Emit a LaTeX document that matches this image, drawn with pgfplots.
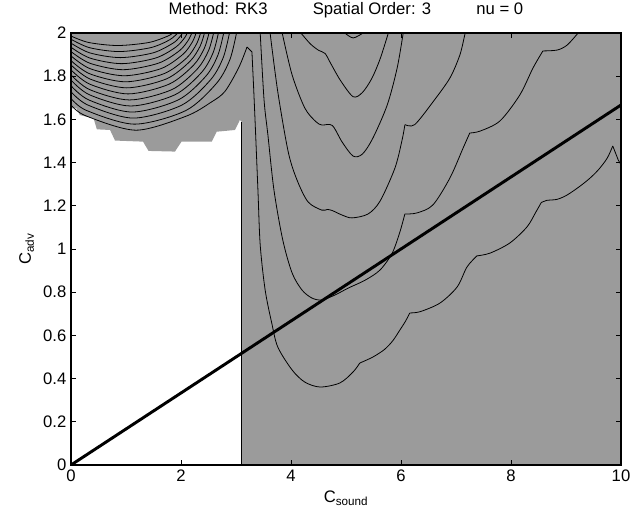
\documentclass[border=0pt]{standalone}
\usepackage{fontspec}
\setmainfont{Liberation Sans}
\usepackage{pgfplots}
\pgfplotsset{compat=1.18}
\usetikzlibrary{calc}
\definecolor{fillgray}{RGB}{155,155,155}
\tikzset{cont/.style={black, line width=0.6pt}}
\begin{document}
\begin{tikzpicture}[font=\fontsize{12.5}{15}\selectfont]
\begin{axis}[
  name=ax,
  scale only axis,
  width=412.5pt, height=324pt,
  xmin=0, xmax=10, ymin=0, ymax=2,
  xtick={0,2,4,6,8,10},
  ytick={0,0.2,0.4,0.6,0.8,1,1.2,1.4,1.6,1.8,2},
  tick align=inside,
  major tick length=3.75pt,
  axis line style={line width=0.8pt},
  every tick/.style={black, line width=0.5pt},
  axis on top,
  /pgf/number format/assume math mode=true,
  xlabel={C\textsubscript{sound}},
  ylabel={C\textsubscript{adv}},
  title={Method: RK3\hspace{34pt}Spatial Order: 3\hspace{34pt}nu = 0},
  title style={at={(0.5,1)}, anchor=base, yshift=8pt},
]

% stable region (gray)
\addplot[fill=fillgray, draw=none] coordinates {
  (0,2) (10,2) (10,0) (3.1,0) (3.1,1.59) (3.07,1.597) (2.98,1.551)
  (2.65,1.543) (2.56,1.497) (2.01,1.497) (1.89,1.451) (1.41,1.454)
  (1.31,1.497) (0.80,1.502) (0.71,1.551) (0.47,1.554) (0.41,1.605)
  (0.16,1.620) (0.10,1.651) (0,1.651)} -- cycle;

% nested arcs, upper left
\addplot[cont, smooth] coordinates {(0,1.697) (0.285,1.641) (1.156,1.578) (2.088,1.641) (2.646,1.767) (2.889,1.877) (3.009,2)};
\addplot[cont, smooth] coordinates {(0,1.728) (0.311,1.666) (1.133,1.606) (2.013,1.666) (2.54,1.784) (2.769,1.887) (2.881,2)};
\addplot[cont, smooth] coordinates {(0,1.756) (0.324,1.690) (1.109,1.634) (1.949,1.690) (2.452,1.800) (2.67,1.897) (2.776,2)};
\addplot[cont, smooth] coordinates {(0,1.782) (0.335,1.714) (1.086,1.662) (1.89,1.714) (2.372,1.817) (2.581,1.907) (2.68,2)};
\addplot[cont, smooth] coordinates {(0,1.806) (0.339,1.738) (1.062,1.690) (1.835,1.738) (2.299,1.834) (2.5,1.918) (2.593,2)};
\addplot[cont, smooth] coordinates {(0,1.829) (0.342,1.763) (1.038,1.718) (1.782,1.763) (2.228,1.851) (2.422,1.928) (2.509,2)};
\addplot[cont, smooth] coordinates {(0,1.852) (0.346,1.787) (1.015,1.746) (1.731,1.787) (2.16,1.868) (2.346,1.938) (2.427,2)};
\addplot[cont, smooth] coordinates {(0,1.872) (0.342,1.811) (0.991,1.774) (1.685,1.811) (2.101,1.884) (2.282,1.949) (2.356,2)};
\addplot[cont, smooth] coordinates {(0,1.894) (0.345,1.835) (0.968,1.802) (1.635,1.835) (2.034,1.901) (2.208,1.959) (2.274,2)};
\addplot[cont, smooth] coordinates {(0,1.914) (0.343,1.860) (0.944,1.830) (1.587,1.860) (1.972,1.918) (2.139,1.969) (2.195,2)};
\addplot[cont, smooth] coordinates {(0,1.934) (0.343,1.884) (0.92,1.858) (1.538,1.884) (1.908,1.935) (2.069,1.979) (2.112,2)};
\addplot[cont, smooth] coordinates {(0,1.953) (0.341,1.908) (0.897,1.886) (1.492,1.908) (1.849,1.952) (1.968,1.979) (2.03,2)};
\addplot[cont, smooth] coordinates {(0,1.971) (0.337,1.932) (0.873,1.914) (1.447,1.932) (1.791,1.968) (1.94,2)};
\addplot[cont, smooth] coordinates {(0,1.986) (0.322,1.956) (0.85,1.942) (1.415,1.956) (1.754,1.985) (1.852,2)};

% outermost level: arc, spike, then the lowest U
\addplot[cont, smooth] coordinates {(0,1.667) (0.265,1.617) (1.18,1.55) (2.095,1.615) (2.55,1.68) (2.8,1.73) (3.05,1.84) (3.2,1.935)};
\addplot[cont] coordinates {(3.2,1.935) (3.29,1.912) (3.32,1.75)};
\addplot[cont, smooth] coordinates {(3.32,1.75) (3.35,1.574) (3.4,1.264) (3.44,1.019) (3.53,0.810) (3.65,0.657) (3.76,0.546) (4.02,0.440) (4.25,0.384) (4.53,0.361) (4.89,0.380) (5.13,0.431) (5.25,0.472)};
\addplot[cont, smooth] coordinates {(5.25,0.472) (5.49,0.500) (5.7,0.535) (5.85,0.575) (5.98,0.625) (6.08,0.665) (6.16,0.704)};
\addplot[cont, smooth] coordinates {(6.16,0.704) (6.35,0.710) (6.71,0.750) (7.02,0.824) (7.2,0.917) (7.38,0.968)};
\addplot[cont, smooth] coordinates {(7.38,0.968) (7.62,0.981) (7.98,1.028) (8.29,1.102) (8.45,1.17) (8.55,1.215)};
\addplot[cont, smooth] coordinates {(8.55,1.215) (8.65,1.225) (8.84,1.23) (9.02,1.25) (9.25,1.29) (9.44,1.329) (9.6,1.37) (9.75,1.421) (9.85,1.477)};
\addplot[cont] coordinates {(9.85,1.477) (9.95,1.412) (10,1.39)};

% second U
\addplot[cont, smooth] coordinates {(3.44,2.0) (3.51,1.69) (3.58,1.528) (3.69,1.273) (3.85,1.042) (4.02,0.889) (4.2,0.81) (4.38,0.773) (4.56,0.764) (4.8,0.787) (5.04,0.819) (5.35,0.856) (5.62,0.903) (5.84,0.981) (5.98,1.079) (6.07,1.162)};
\addplot[cont, smooth] coordinates {(6.07,1.162) (6.29,1.167) (6.58,1.204) (6.89,1.329) (7.13,1.468) (7.25,1.537)};
\addplot[cont, smooth] coordinates {(7.25,1.537) (7.44,1.546) (7.8,1.593) (8.16,1.713) (8.4,1.838) (8.58,1.917)};
\addplot[cont, smooth] coordinates {(8.58,1.917) (8.84,1.921) (9.02,1.944) (9.22,2.0)};

% third U
\addplot[cont, smooth] coordinates {(3.62,2.0) (3.76,1.727) (3.95,1.449) (4.11,1.319) (4.31,1.218) (4.56,1.18) (4.66,1.183) (4.75,1.178) (4.93,1.157) (5.11,1.144) (5.4,1.162) (5.62,1.222) (5.89,1.375) (6.02,1.505) (6.07,1.574)};
\addplot[cont, smooth] coordinates {(6.07,1.576) (6.25,1.576) (6.59,1.684) (6.89,1.792) (7.07,1.898) (7.16,1.992) (7.17,2.0)};

% fourth U
\addplot[cont, smooth] coordinates {(3.84,2.0) (4.02,1.806) (4.25,1.653) (4.45,1.59) (4.56,1.574) (4.75,1.572) (4.93,1.495) (5.13,1.43) (5.3,1.44) (5.49,1.514) (5.75,1.667) (5.93,1.838) (6.04,2.0)};

% fifth U
\addplot[cont, smooth] coordinates {(4.18,2.0) (4.35,1.95) (4.5,1.92) (4.62,1.905) (4.72,1.86) (4.9,1.78) (5.13,1.705) (5.3,1.725) (5.47,1.79) (5.62,1.88) (5.77,2.0)};

% small dip at the top
\addplot[cont, smooth] coordinates {(4.98,2.0) (5.13,1.977) (5.31,2.0)};

% edge of the gray block
\addplot[black, line width=0.5pt] coordinates {(3.1,0) (3.1,1.59)};

% C_adv = C_sound / 6
\addplot[black, line width=2.2pt] coordinates {(0,0) (10,1.6667)};

\end{axis}
\pgfresetboundingbox
\path ($(ax.south west)+(-53.25pt,-41.25pt)$) rectangle ($(ax.north east)+(7.5pt,24.75pt)$);
\end{tikzpicture}
\end{document}
